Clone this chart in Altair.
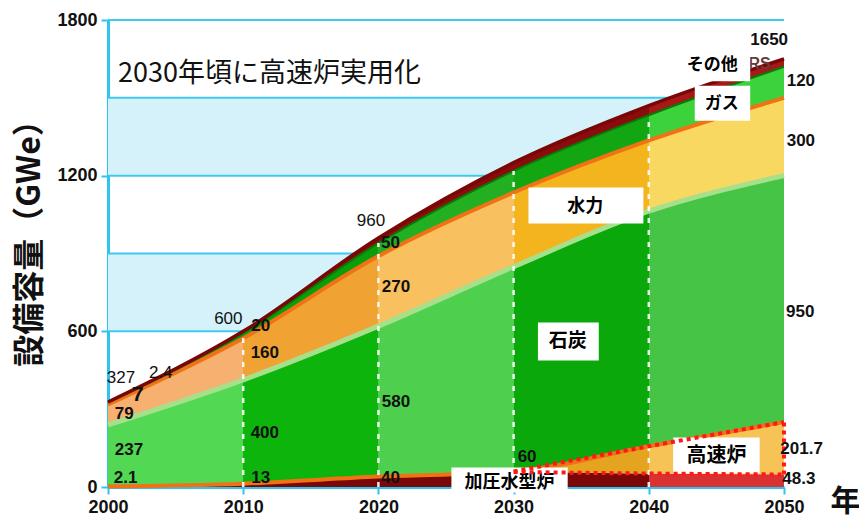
import altair as alt
import pandas as pd
import numpy as np

# ---------------- data (GWe) ----------------
years = [2000, 2010, 2020, 2030, 2040, 2050]
pwr   = [2.1, 13, 40, 58, 52, 48.3]      # 加圧水型炉
fbr   = [0, 0, 0, 2, 105, 201.7]         # 高速炉
coal  = [237, 400, 580, 789, 906, 950]   # 石炭
hydro = [79, 160, 270, 286, 273, 300]    # 水力
gas   = [7, 20, 50, 83, 97, 120]         # ガス
other = [2.4, 7, 20, 32, 37, 30]         # その他

series_names = ["pwr", "fbr", "coal", "hydro", "gas", "other"]
series_vals = [pwr, fbr, coal, hydro, gas, other]

y_tick_values = [0, 600, 1200, 1800]
grid_values = [300, 600, 900, 1200, 1500, 1800]
band_lo = [0, 600, 1200]
band_hi = [300, 900, 1500]
divider_years = [2010, 2020, 2030, 2040]

# ---------------- derived tables ----------------
arr = np.array(series_vals, dtype=float)
cum = arr.cumsum(axis=0)
low = cum - arr
top = {n: cum[i] for i, n in enumerate(series_names)}
bot = {n: low[i] for i, n in enumerate(series_names)}
nuclear = [p + f for p, f in zip(pwr, fbr)]
total = [int(t) for t in cum[-1]]

def fmt(v):
    v = round(float(v), 1)
    return str(int(v)) if v.is_integer() else str(v)

def grad(colors):
    n = len(colors)
    stops = []
    for i, c in enumerate(colors):
        stops.append(alt.GradientStop(color=c, offset=i / n))
        stops.append(alt.GradientStop(color=c, offset=(i + 1) / n))
    return alt.LinearGradient(gradient="linear", stops=stops, x1=0, x2=1, y1=0, y2=0)

fills = {
    "pwr":   ["#7a0808", "#7a0808", "#7a0808", "#7a0808", "#d83232"],
    "fbr":   ["#e8a030", "#e8a030", "#e8a030", "#e4a420", "#f5c356"],
    "coal":  ["#52d852", "#0cb40c", "#4ed04e", "#0aa80a", "#46c446"],
    "hydro": ["#f6b070", "#f0a232", "#f8c05e", "#f4b41e", "#f9d862"],
    "gas":   ["#0e8e0e", "#0a9e0a", "#22b022", "#12a612", "#3cd23c"],
    "other": ["#8a0c0c", "#8a0c0c", "#8a0c0c", "#8a0c0c", "#a81818"],
}

CYAN = "#2ec4f2"
LATIN = "Liberation Sans"
CJK = "Noto Sans CJK JP"

xs = alt.Scale(domain=[years[0], years[-1]], nice=False, zero=False)
ys = alt.Scale(domain=[0, 1800], nice=False)

XAX = alt.Axis(values=years, format="d", title="年", titleX=737, titleY=14,
               titleAlign="center", titleBaseline="middle", titleFontSize=30,
               titleFont=CJK, titleFontWeight="bold", titleColor="#111",
               labelFlush=False, grid=False)
YAX = alt.Axis(values=y_tick_values, format="d", title="設備容量（GWe）", titleX=-79, titleY=215,
               titleAlign="center", titleBaseline="middle", titleFontSize=32,
               titleFont=CJK, titleFontWeight="bold", titleColor="#111", grid=False)

def X(f):
    return alt.X(f"{f}:Q", scale=xs, axis=XAX)

def Y(f):
    return alt.Y(f"{f}:Q", scale=ys, axis=YAX)

layers = []

# background bands and grid
bands = pd.DataFrame({"lo": band_lo, "hi": band_hi, "x0": years[0], "x1": years[-1]})
layers.append(alt.Chart(bands).mark_rect(fill="#d5f2fb").encode(
    x=X("x0"), x2="x1", y=Y("lo"), y2="hi"))
grid = pd.DataFrame({"v": grid_values, "x0": years[0], "x1": years[-1]})
layers.append(alt.Chart(grid).mark_rule(color="#3fc8f0", strokeWidth=2).encode(
    x=X("x0"), x2="x1", y=Y("v")))

# stacked areas
for n in series_names:
    d = pd.DataFrame({"year": years, "lo": bot[n], "hi": top[n]})
    layers.append(alt.Chart(d).mark_area(interpolate="monotone", color=grad(fills[n])).encode(
        x=X("year"), y=Y("hi"), y2="lo"))

# boundary lines
bounds = [("fbr", "#f07214", 4), ("coal", "#a6e08a", 5), ("hydro", "#f07214", 4),
          ("gas", "#087a08", 2), ("other", "#7a0606", 3.5)]
for n, c, w in bounds:
    d = pd.DataFrame({"year": years, "v": top[n]})
    layers.append(alt.Chart(d).mark_line(interpolate="monotone", color=c, strokeWidth=w).encode(
        x=X("year"), y=Y("v")))

# white dashed decade dividers
div = pd.DataFrame({"year": divider_years,
                    "hi": [top["gas"][years.index(y)] for y in divider_years], "lo": 0})
layers.append(alt.Chart(div).mark_rule(color="white", strokeWidth=2.5, strokeDash=[5, 7], opacity=0.9).encode(
    x=X("year"), y=Y("lo"), y2="hi"))

# label boxes (position in data units: year, GWe)
boxes = [
    ("その他", 2042.4, 2047.5, 1564, 1671, 2044.7, 1628, 17),
    ("ガス", 2043.4, 2047.5, 1412, 1547, 2045.4, 1476, 17),
    ("水力", 2031.1, 2039.6, 1016, 1154, 2035.3, 1080, 18),
    ("石炭", 2031.8, 2036.3, 488, 634, 2034.0, 562, 19),
    ("高速炉", 2041.8, 2048.2, 52, 191, 2045.0, 120, 20),
    ("加圧水型炉", 2025.4, 2034.0, -21, 75, 2029.7, 14, 18),
]
bx = pd.DataFrame(boxes, columns=["t", "x0", "x1", "y0", "y1", "tx", "ty", "fs"])

# partly hidden label behind the その他 box
hid = pd.DataFrame({"t": ["RS"], "tx": [2048.2], "ty": [1632]})
layers.append(alt.Chart(hid).mark_text(font=LATIN, fontWeight="bold", fontSize=16, color="#6a3a3a").encode(
    x=X("tx"), y=Y("ty"), text="t"))

layers.append(alt.Chart(bx).mark_rect(fill="white").encode(
    x=X("x0"), x2="x1", y=Y("y0"), y2="y1"))
layers.append(alt.Chart(bx).mark_text(font=CJK, fontWeight="bold", color="black").encode(
    x=X("tx"), y=Y("ty"), text="t", size=alt.Size("fs:Q", scale=None)))

# red dotted outline of the fast reactor wedge
fb_years = [y for y in years if y >= 2030]
dot_top = pd.DataFrame({"year": fb_years, "v": [top["fbr"][years.index(y)] for y in fb_years]})
dot_bot = pd.DataFrame({"year": fb_years, "v": [top["pwr"][years.index(y)] for y in fb_years]})
for d in (dot_top, dot_bot):
    layers.append(alt.Chart(d).mark_line(interpolate="monotone", color="#ff1818", strokeWidth=4,
                                         strokeDash=[4, 4]).encode(x=X("year"), y=Y("v")))
edge = pd.DataFrame({"year": [years[-1]], "lo": [top["pwr"][-1]], "hi": [top["fbr"][-1]]})
layers.append(alt.Chart(edge).mark_rule(color="#ff1818", strokeWidth=4, strokeDash=[4, 4]).encode(
    x=X("year"), y=Y("lo"), y2="hi"))

# value labels (text from the data, placed in data units)
val_labels = [
    (total[0], 2000.96, 422, "normal", 17),
    (other[0], 2003.9, 441, "normal", 17),
    (gas[0], 2002.2, 353, "bold", 21),
    (hydro[0], 2001.2, 283, "bold", 17),
    (coal[0], 2001.55, 141, "bold", 17),
    (nuclear[0], 2001.3, 33, "bold", 17),
    (total[1], 2008.9, 649, "normal", 17),
    (gas[1], 2011.3, 622, "bold", 17),
    (hydro[1], 2011.6, 518, "bold", 17),
    (coal[1], 2011.6, 210, "bold", 17),
    (nuclear[1], 2011.3, 33, "bold", 17),
    (total[2], 2019.45, 1027, "normal", 17),
    (gas[2], 2020.9, 942, "bold", 17),
    (hydro[2], 2021.3, 769, "bold", 17),
    (coal[2], 2021.3, 326, "bold", 17),
    (nuclear[2], 2020.9, 33, "bold", 17),
    (nuclear[3], 2031.0, 114, "bold", 17),
    (total[5], 2048.9, 1721, "bold", 17),
    (gas[5], 2051.25, 1563, "bold", 17),
    (hydro[5], 2051.25, 1335, "bold", 17),
    (coal[5], 2051.2, 676, "bold", 17),
    (fbr[5], 2051.3, 145, "bold", 17),
    (pwr[5], 2051.1, 29, "bold", 17),
]
vl = pd.DataFrame([(fmt(v), x, y, w, s) for v, x, y, w, s in val_labels],
                  columns=["t", "x", "y", "w", "fs"])
for w in ("normal", "bold"):
    layers.append(alt.Chart(vl[vl.w == w]).mark_text(font=LATIN, fontWeight=w, color="#111").encode(
        x=X("x"), y=Y("y"), text="t", size=alt.Size("fs:Q", scale=None)))

# headline inside the plot
head = pd.DataFrame({"t": ["2030年頃に高速炉実用化"], "x": [2000.74], "y": [1591]})
layers.append(alt.Chart(head).mark_text(font=CJK, fontSize=27, align="left", baseline="middle",
                                        color="#111").encode(x=X("x"), y=Y("y"), text="t"))

chart = alt.layer(*layers).properties(
    width=676, height=467,
    autosize=alt.AutoSizeParams(type="none"),
    padding={"left": 108, "top": 20, "right": 75, "bottom": 33},
).configure_view(stroke=None).configure_axis(
    domainColor=CYAN, domainWidth=3, tickColor=CYAN, tickWidth=2, tickSize=7,
    labelFont=LATIN, labelFontWeight="bold", labelFontSize=18, labelColor="#111",
    labelPadding=4,
)

chart.save("out.html", embed_options={"renderer": "svg", "actions": False})
